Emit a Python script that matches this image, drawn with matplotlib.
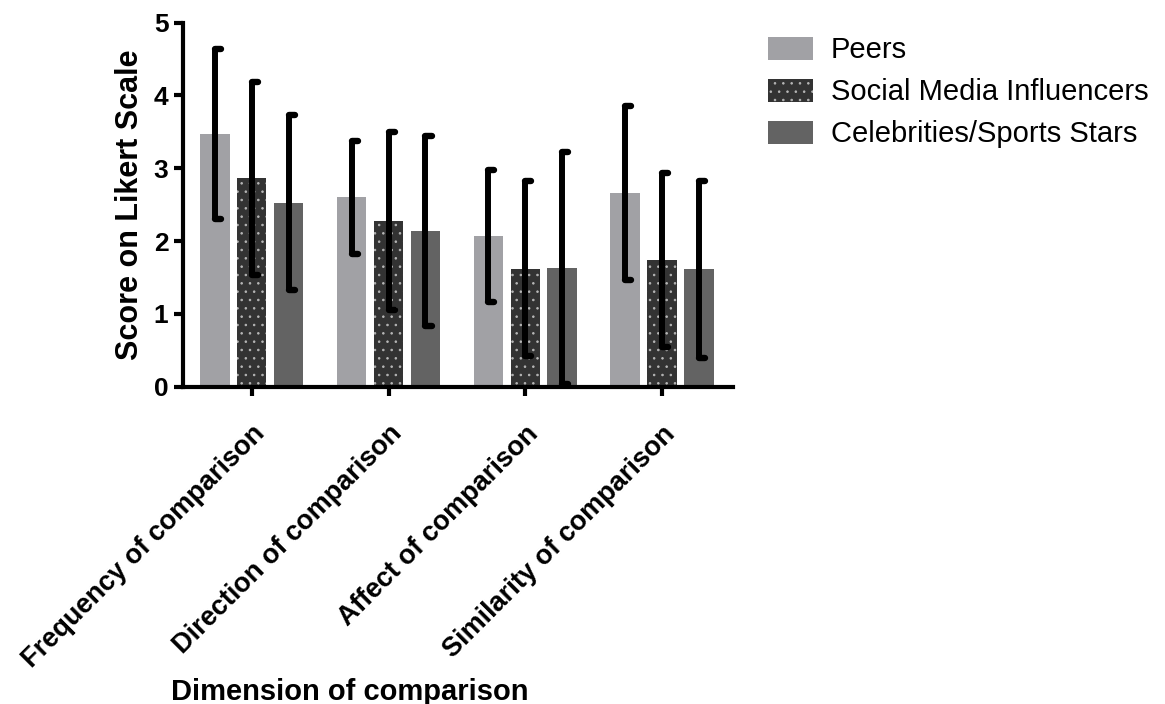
import numpy as np
import matplotlib
matplotlib.use("Agg")
import matplotlib.pyplot as plt

# Mean scores and SDs per dimension, one list per comparison target
dimensions = [
    "Frequency of comparison",
    "Direction of comparison",
    "Affect of comparison",
    "Similarity of comparison",
]
groups = ["Peers", "Social Media Influencers", "Celebrities/Sports Stars"]

peers_mean = [3.47, 2.60, 2.07, 2.66]
peers_sd = [1.17, 0.78, 0.90, 1.20]
influencers_mean = [2.86, 2.28, 1.62, 1.74]
influencers_sd = [1.33, 1.22, 1.20, 1.20]
celebs_mean = [2.53, 2.14, 1.63, 1.61]
celebs_sd = [1.20, 1.30, 1.59, 1.21]

means = [peers_mean, influencers_mean, celebs_mean]
sds = [peers_sd, influencers_sd, celebs_sd]
colors = ["#a1a1a5", "#333333", "#636363"]
hatches = [None, "..", None]

plt.rcParams["font.family"] = ["Liberation Sans", "DejaVu Sans"]
plt.rcParams["hatch.color"] = "#b8b8b8"
plt.rcParams["hatch.linewidth"] = 0.6

fig = plt.figure(figsize=(11.65, 7.04), dpi=100)
ax = fig.add_axes([0.1571, 0.4507, 0.4721, 0.5171])

x = np.arange(len(dimensions))
pitch = 0.27
width = 0.215
cap_len = 0.045

for i, (m, s) in enumerate(zip(means, sds)):
    pos = x + (i - 1) * pitch
    ax.bar(pos, m, width=width, color=colors[i], hatch=hatches[i],
           linewidth=0, label=groups[i], zorder=2)
    m = np.array(m)
    s = np.array(s)
    ax.vlines(pos, m - s, m + s, color="black", linewidth=4.3, zorder=3)
    # GraphPad-style caps that stick out to the right of the bar
    for ends in (m - s, m + s):
        ax.hlines(ends, pos, pos + cap_len, color="black", linewidth=4.6,
                  capstyle="round", zorder=3)

ax.set_xlim(-0.503, 3.52)
ax.set_ylim(0, 5)
ax.set_yticks(range(6))
ax.set_xticks(x)
ax.set_xticklabels(dimensions, rotation=45, ha="right", va="top",
                   rotation_mode="anchor", fontsize=19.5, fontweight="bold")
for lab in ax.get_yticklabels():
    lab.set_fontsize(19)
    lab.set_fontweight("bold")

for side in ("top", "right"):
    ax.spines[side].set_visible(False)
for side in ("left", "bottom"):
    ax.spines[side].set_linewidth(3)
ax.tick_params(axis="both", direction="out", length=6.5, width=3)
ax.tick_params(axis="y", pad=4)
ax.tick_params(axis="x", pad=18)

ax.set_ylabel("Score on Likert Scale", fontsize=22, fontweight="bold")
ax.yaxis.set_label_coords(-0.07, 0.5)
ax.set_xlabel("Dimension of comparison", fontsize=21, fontweight="bold")
ax.xaxis.set_label_coords(0.304, -0.8)

fig.legend(loc="upper left", bbox_to_anchor=(0.649, 0.965), frameon=False,
           fontsize=21, handlelength=1.55, handleheight=0.82,
           handletextpad=0.62, labelspacing=0.48, borderaxespad=0)

fig.savefig("out.png", dpi=100)
